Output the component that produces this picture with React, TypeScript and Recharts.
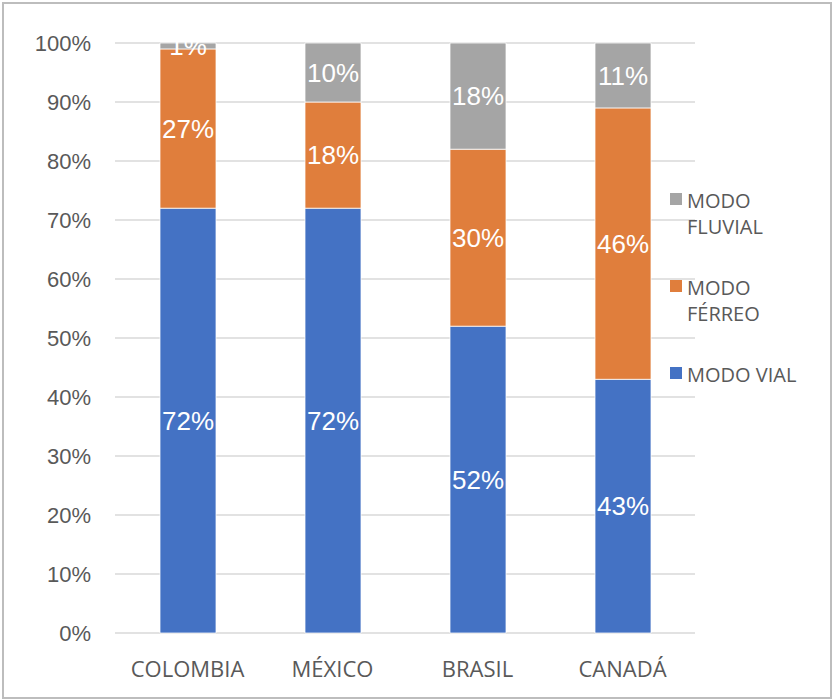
import React from 'react'
import { BarChart, Bar, XAxis, YAxis, CartesianGrid, LabelList } from 'recharts'

const PAISES = ['COLOMBIA', 'MÉXICO', 'BRASIL', 'CANADÁ']
const MODO_VIAL = [72, 72, 52, 43]
const MODO_FERREO = [27, 18, 30, 46]
const MODO_FLUVIAL = [1, 10, 18, 11]
const Y_TICKS = [0, 10, 20, 30, 40, 50, 60, 70, 80, 90, 100]

const SERIES = [
  { key: 'vial', name: 'MODO VIAL', color: '#4472C4' },
  { key: 'ferreo', name: 'MODO FÉRREO', color: '#E07E3C' },
  { key: 'fluvial', name: 'MODO FLUVIAL', color: '#A5A5A5' },
]

const data = PAISES.map((pais, i) => ({
  pais,
  vial: MODO_VIAL[i],
  ferreo: MODO_FERREO[i],
  fluvial: MODO_FLUVIAL[i],
}))

const LABEL_FONT = '"Open Sans", "Noto Sans", sans-serif'
const NUM_FONT = '"Liberation Sans", Arial, sans-serif'

function LeyendaModos() {
  // orden invertido: fluvial arriba, vial abajo
  const items = [...SERIES].reverse()
  return (
    <div
      style={{
        position: 'absolute',
        left: 670,
        top: 188,
        width: 160,
        fontFamily: LABEL_FONT,
        fontSize: 20,
        lineHeight: '26px',
        color: '#595959',
      }}
    >
      {items.map((s) => (
        <div key={s.key} style={{ display: 'flex', alignItems: 'flex-start', marginBottom: 35 }}>
          <span
            style={{
              display: 'inline-block',
              width: 12,
              height: 12,
              marginTop: 5,
              marginRight: 5,
              background: s.color,
              flex: 'none',
            }}
          />
          <span style={{ width: 125 }}>{s.name}</span>
        </div>
      ))}
    </div>
  )
}

export default function App() {
  return (
    <div style={{ position: 'absolute', left: 0, top: 0, width: 833, height: 700, background: '#fff' }}>
      <div
        style={{
          position: 'absolute',
          left: 2,
          top: 2,
          width: 830,
          height: 697,
          border: '2.5px solid #BDBDBD',
          boxSizing: 'border-box',
        }}
      />
      <div style={{ position: 'absolute', left: 0, top: 0 }}>
        <BarChart width={833} height={700} data={data} margin={{ top: 43, right: 138, bottom: 0, left: 0 }}>
          <CartesianGrid vertical={false} stroke="#D9D9D9" strokeWidth={1.5} />
          <XAxis
            dataKey="pais"
            height={67}
            axisLine={false}
            tickLine={false}
            tickSize={0}
            tickMargin={28}
            tick={{ fontSize: 22, fill: '#595959', fontFamily: LABEL_FONT }}
          />
          <YAxis
            width={115}
            domain={[0, 100]}
            ticks={Y_TICKS}
            axisLine={false}
            tickLine={false}
            tickSize={0}
            tickMargin={24}
            tickFormatter={(v) => `${v}%`}
            tick={{ fontSize: 22, fill: '#595959', fontFamily: NUM_FONT }}
          />
          {SERIES.map((s) => (
            <Bar
              key={s.key}
              dataKey={s.key}
              name={s.name}
              stackId="a"
              fill={s.color}
              stroke="#ffffff"
              strokeWidth={0.75}
              barSize={56}
              isAnimationActive={false}
            >
              <LabelList
                dataKey={s.key}
                position="center"
                formatter={(v: any) => `${v}%`}
                fill="#ffffff"
                style={{ fontSize: 26, fontFamily: NUM_FONT }}
              />
            </Bar>
          ))}
        </BarChart>
      </div>
      <LeyendaModos />
    </div>
  )
}
